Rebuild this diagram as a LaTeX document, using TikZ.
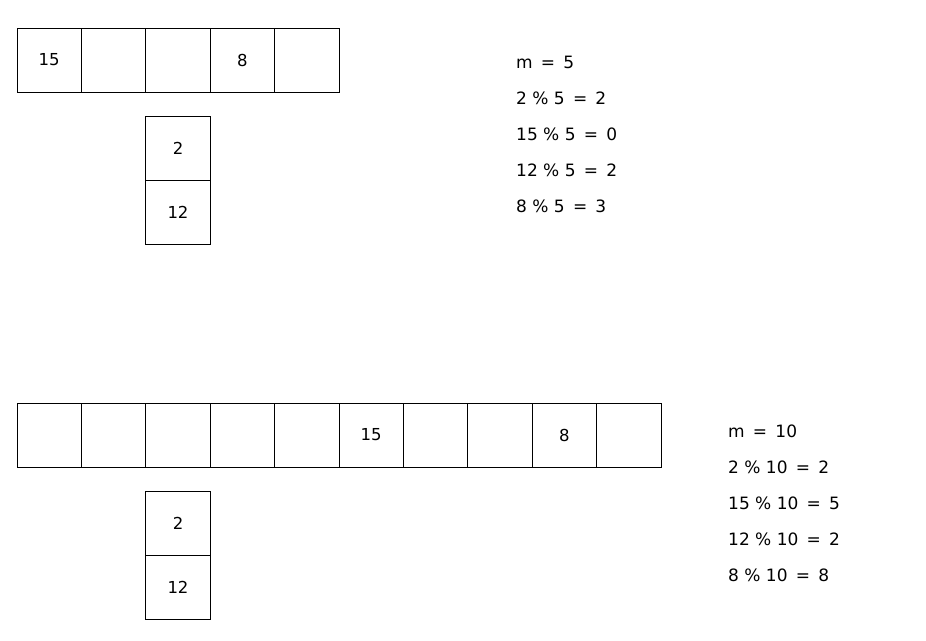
\documentclass[tikz,border=0pt]{standalone}
\usepackage{fontspec}
\setmainfont{DejaVu Sans}
\usetikzlibrary{positioning}
\tikzset{
  cellbox/.style={draw=black,line width=0.8pt,minimum width=64.4pt,minimum height=64pt,
    inner sep=0pt,outer sep=0pt,font=\fontsize{16.5}{18}\selectfont},
  calcline/.style={anchor=west,inner sep=0pt,font=\fontsize{17}{19}\selectfont},
}
\newcommand{\eqsign}{\ \,=\ \,}
\begin{document}
\begin{tikzpicture}[x=1pt,y=-1pt]
        \useasboundingbox (0,0) rectangle (926,640);
        % m = 5
        \node[cellbox,anchor=north west] (a1) at (17,28) {15};
        \node[cellbox,right=0pt of a1] (a2) {};
        \node[cellbox,right=0pt of a2] (a3) {};
        \node[cellbox,right=0pt of a3] (a4) {8};
        \node[cellbox,right=0pt of a4] (a5) {};
        \node[cellbox,below=24pt of a3] (ac1) {2};
        \node[cellbox,below=0pt of ac1] (ac2) {12};
        \node[calcline] (am) at (516,62) {m\eqsign5};
        \node[calcline] (ar1) at (516,98) {2 \% 5\eqsign2};
        \node[calcline] (ar2) at (516,134) {15 \% 5\eqsign0};
        \node[calcline] (ar3) at (516,170) {12 \% 5\eqsign2};
        \node[calcline] (ar4) at (516,206) {8 \% 5\eqsign3};
        % m = 10
        \node[cellbox,anchor=north west] (b1) at (17,403) {};
        \foreach \i/\lbl [remember=\i as \j (initially 1)] in {2/,3/,4/,5/,6/15,7/,8/,9/8,10/}
          \node[cellbox,right=0pt of b\j] (b\i) {\lbl};
        \node[cellbox,below=24pt of b3] (bc1) {2};
        \node[cellbox,below=0pt of bc1] (bc2) {12};
        \node[calcline] (bm) at (728,431) {m\eqsign10};
        \node[calcline] (br1) at (728,467) {2 \% 10\eqsign2};
        \node[calcline] (br2) at (728,503) {15 \% 10\eqsign5};
        \node[calcline] (br3) at (728,539) {12 \% 10\eqsign2};
        \node[calcline] (br4) at (728,575) {8 \% 10\eqsign8};
      \end{tikzpicture}
\end{document}
